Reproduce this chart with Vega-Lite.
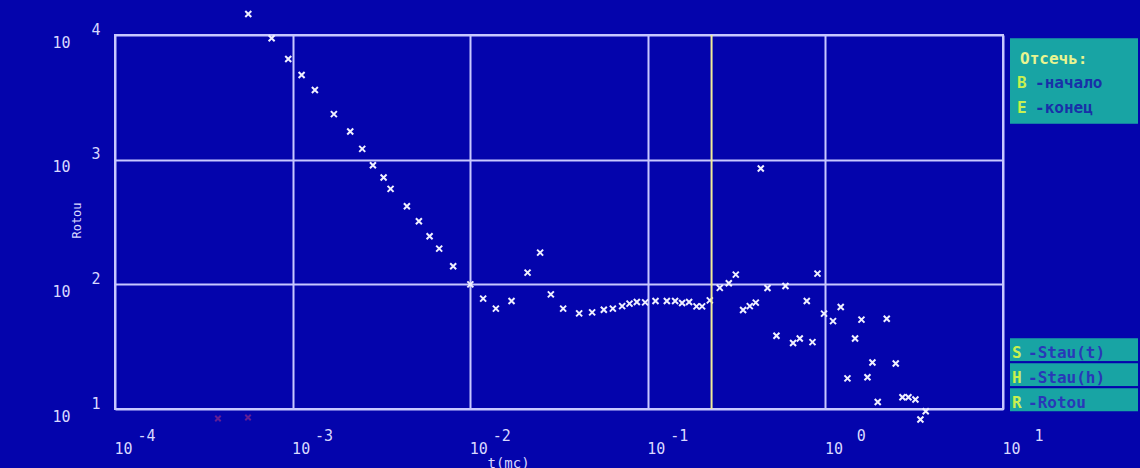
{
  "$schema": "https://vega.github.io/schema/vega-lite/v6.json",
  "width": 888,
  "height": 374,
  "autosize": {"type": "none"},
  "padding": {"left": 115, "top": 35, "right": 137, "bottom": 59},
  "background": "#0404ac",
  "config": {
    "view": {"stroke": "#c8c8ff", "strokeWidth": 2},
    "font": "DejaVu Sans Mono",
    "axis": {"labelFont": "DejaVu Sans Mono", "titleFont": "DejaVu Sans Mono", "labelColor": "#d8d8ff", "titleColor": "#d8d8ff", "labelFlush": false, "labelOverlap": false, "labelBound": false, "ticks": false, "domain": false}
  },
  "datasets": {
    "pts": [
      {"t": 0.000563, "R": 14750}, {"t": 0.000762, "R": 9408}, {"t": 0.000945, "R": 6415},
      {"t": 0.001124, "R": 4771}, {"t": 0.001335, "R": 3616}, {"t": 0.001708, "R": 2320},
      {"t": 0.002111, "R": 1684}, {"t": 0.002466, "R": 1221}, {"t": 0.002833, "R": 903},
      {"t": 0.003254, "R": 719}, {"t": 0.003562, "R": 583}, {"t": 0.004401, "R": 423},
      {"t": 0.005141, "R": 321}, {"t": 0.005907, "R": 243}, {"t": 0.00669, "R": 193.5},
      {"t": 0.00802, "R": 139.5}, {"t": 0.01002, "R": 100}, {"t": 0.01183, "R": 76.8},
      {"t": 0.01395, "R": 63.8}, {"t": 0.01709, "R": 73.4}, {"t": 0.02104, "R": 124.2},
      {"t": 0.02476, "R": 179.7}, {"t": 0.02845, "R": 83.1}, {"t": 0.03337, "R": 63.8},
      {"t": 0.04106, "R": 58.5}, {"t": 0.04859, "R": 59.6}, {"t": 0.05655, "R": 62.6},
      {"t": 0.06356, "R": 63.8}, {"t": 0.0717, "R": 66.9}, {"t": 0.0789, "R": 70.0},
      {"t": 0.08675, "R": 72.1}, {"t": 0.0966, "R": 71.7}, {"t": 0.1105, "R": 73.4},
      {"t": 0.128, "R": 73.4}, {"t": 0.1425, "R": 73.4}, {"t": 0.156, "R": 70.8},
      {"t": 0.1708, "R": 72.1}, {"t": 0.188, "R": 66.6}, {"t": 0.2022, "R": 66.6},
      {"t": 0.2234, "R": 74.4}, {"t": 0.2543, "R": 93.7}, {"t": 0.2858, "R": 101.9},
      {"t": 0.3129, "R": 119.7}, {"t": 0.344, "R": 62.2}, {"t": 0.3752, "R": 66.9},
      {"t": 0.4055, "R": 71.3}, {"t": 0.4327, "R": 850}, {"t": 0.472, "R": 93.4},
      {"t": 0.5302, "R": 38.7}, {"t": 0.5959, "R": 96.9}, {"t": 0.6577, "R": 33.8},
      {"t": 0.7173, "R": 36.8}, {"t": 0.7855, "R": 73.4}, {"t": 0.8457, "R": 34.4},
      {"t": 0.9023, "R": 121.9}, {"t": 0.9826, "R": 58.2}, {"t": 1.104, "R": 50.7},
      {"t": 1.22, "R": 65.7}, {"t": 1.331, "R": 17.6}, {"t": 1.469, "R": 36.8},
      {"t": 1.596, "R": 52.1}, {"t": 1.725, "R": 18.0}, {"t": 1.84, "R": 23.6},
      {"t": 1.971, "R": 11.38}, {"t": 2.215, "R": 53.0}, {"t": 2.489, "R": 23.2},
      {"t": 2.715, "R": 12.44}, {"t": 2.935, "R": 12.44}, {"t": 3.213, "R": 11.92},
      {"t": 3.672, "R": 9.6}, {"t": 3.428, "R": 8.24}
    ],
    "red": [{"t": 0.00038, "R": 8.39}, {"t": 0.000561, "R": 8.55}],
    "cut": [{"t": 0.2286}],
    "boxes": [
      {"col": "L", "y0": 0, "y1": 7},
      {"col": "L", "y0": 24, "y1": 26},
      {"col": "L", "y0": 26, "y1": 28},
      {"col": "L", "y0": 28, "y1": 30}
    ],
    "lines": [
      {"col": "L", "slot": 1, "grp": "title", "key": "", "rest": "Отсечь:"},
      {"col": "L", "slot": 3, "grp": "top", "key": "B", "rest": "-начало"},
      {"col": "L", "slot": 5, "grp": "top", "key": "E", "rest": "-конец"},
      {"col": "L", "slot": 25, "grp": "bot", "key": "S", "rest": "-Stau(t)"},
      {"col": "L", "slot": 27, "grp": "bot", "key": "H", "rest": "-Stau(h)"},
      {"col": "L", "slot": 29, "grp": "bot", "key": "R", "rest": "-Rotou"}
    ]
  },
  "layer": [
    {
      "layer": [
        {
          "data": {"name": "pts"},
          "mark": {"type": "point", "shape": "M-1,-1L1,1M-1,1L1,-1", "filled": false, "color": "#f0f0ff", "strokeWidth": 2, "size": 36, "opacity": 1},
          "encoding": {
            "x": {"field": "t", "type": "quantitative",
              "scale": {"type": "log", "domain": [0.0001, 10], "nice": false},
              "axis": {"orient": "bottom", "values": [0.0001, 0.001, 0.01, 0.1, 1, 10], "grid": true, "gridColor": "#c8c8ff", "gridWidth": 2, "gridOpacity": 1,
                "labelExpr": "'10'", "labelAlign": "left", "labelBaseline": "middle", "labelPadding": 39, "labelOffset": -1, "labelFontSize": 15,
                "title": "t(mc)", "titleX": 372, "titleY": 47, "titleAlign": "left", "titleBaseline": "top", "titleFontSize": 14, "titleFontWeight": "normal"}},
            "y": {"field": "R", "type": "quantitative",
              "scale": {"type": "log", "domain": [10, 10000], "nice": false},
              "axis": {"orient": "left", "values": [10, 100, 1000, 10000], "grid": true, "gridColor": "#c8c8ff", "gridWidth": 2, "gridOpacity": 1,
                "labelExpr": "'10'", "labelAlign": "right", "labelBaseline": "middle", "labelPadding": 45, "labelOffset": 7, "labelFontSize": 15,
                "title": "Rotou", "titleX": -39, "titleY": 185, "titleAngle": -90, "titleAlign": "center", "titleBaseline": "middle", "titleFontSize": 12, "titleFontWeight": "normal"}}
          }
        },
        {
          "data": {"name": "cut"},
          "mark": {"type": "rule", "color": "#f0ec98", "strokeWidth": 2},
          "encoding": {"x": {"field": "t", "type": "quantitative", "axis": null}}
        },
        {
          "data": {"name": "red"},
          "mark": {"type": "point", "shape": "M-1,-1L1,1M-1,1L1,-1", "filled": false, "color": "#8a2a8a", "strokeWidth": 2, "size": 30, "opacity": 0.7},
          "encoding": {
            "x": {"field": "t", "type": "quantitative",
              "axis": {"orient": "bottom", "values": [0.0001, 0.001, 0.01, 0.1, 1, 10], "grid": false,
                "labelExpr": "'' + round(log(datum.value) / LN10)", "labelAlign": "right", "labelBaseline": "middle", "labelPadding": 26, "labelOffset": 40, "labelFontSize": 15, "title": null}},
            "y": {"field": "R", "type": "quantitative",
              "axis": {"orient": "left", "values": [10, 100, 1000, 10000], "grid": false,
                "labelExpr": "'' + round(log(datum.value) / LN10)", "labelAlign": "left", "labelBaseline": "middle", "labelPadding": 24, "labelOffset": -6, "labelFontSize": 15, "title": null}}
          }
        }
      ],
      "resolve": {"axis": {"x": "independent", "y": "independent"}}
    },
    {
      "layer": [
        {
          "data": {"name": "boxes"},
          "mark": {"type": "rect", "color": "#18a4a4", "stroke": "#0404ac", "strokeWidth": 2},
          "encoding": {
            "x": {"field": "col", "type": "nominal", "scale": {"type": "band", "domain": ["L"], "range": [894, 1024], "paddingInner": 0, "paddingOuter": 0}, "axis": null},
            "y": {"field": "y0", "type": "ordinal", "scale": {"type": "band", "domain": [0,1,2,3,4,5,6,7,8,9,10,11,12,13,14,15,16,17,18,19,20,21,22,23,24,25,26,27,28,29,30], "range": [-4, 383.5], "paddingInner": 0, "paddingOuter": 0}, "axis": null},
            "y2": {"field": "y1"}
          }
        },
        {
          "data": {"name": "lines"},
          "transform": [{"filter": "datum.grp == 'title'"}],
          "mark": {"type": "text", "align": "left", "baseline": "middle", "dx": -54, "dy": 9, "font": "DejaVu Sans Mono", "fontSize": 16, "fontWeight": "bold", "color": "#e8f490"},
          "encoding": {"x": {"field": "col", "type": "nominal", "axis": null}, "y": {"field": "slot", "type": "ordinal", "axis": null}, "text": {"field": "rest"}}
        },
        {
          "data": {"name": "lines"},
          "transform": [{"filter": "datum.grp == 'top'"}],
          "mark": {"type": "text", "align": "left", "baseline": "middle", "dx": -57, "dy": 8, "font": "DejaVu Sans Mono", "fontSize": 16, "fontWeight": "bold", "color": "#c8f050"},
          "encoding": {"x": {"field": "col", "type": "nominal", "axis": null}, "y": {"field": "slot", "type": "ordinal", "axis": null}, "text": {"field": "key"}}
        },
        {
          "data": {"name": "lines"},
          "transform": [{"filter": "datum.grp == 'top'"}],
          "mark": {"type": "text", "align": "left", "baseline": "middle", "dx": -39, "dy": 8, "font": "DejaVu Sans Mono", "fontSize": 16, "fontWeight": "bold", "color": "#1830a8"},
          "encoding": {"x": {"field": "col", "type": "nominal", "axis": null}, "y": {"field": "slot", "type": "ordinal", "axis": null}, "text": {"field": "rest"}}
        },
        {
          "data": {"name": "lines"},
          "transform": [{"filter": "datum.grp == 'bot'"}],
          "mark": {"type": "text", "align": "left", "baseline": "middle", "dx": -62, "dy": 3, "font": "DejaVu Sans Mono", "fontSize": 16, "fontWeight": "bold", "color": "#c8f050"},
          "encoding": {"x": {"field": "col", "type": "nominal", "axis": null}, "y": {"field": "slot", "type": "ordinal", "axis": null}, "text": {"field": "key"}}
        },
        {
          "data": {"name": "lines"},
          "transform": [{"filter": "datum.grp == 'bot'"}],
          "mark": {"type": "text", "align": "left", "baseline": "middle", "dx": -46, "dy": 3, "font": "DejaVu Sans Mono", "fontSize": 16, "fontWeight": "bold", "color": "#2838b8"},
          "encoding": {"x": {"field": "col", "type": "nominal", "axis": null}, "y": {"field": "slot", "type": "ordinal", "axis": null}, "text": {"field": "rest"}}
        }
      ]
    }
  ],
  "resolve": {"scale": {"x": "independent", "y": "independent"}}
}
